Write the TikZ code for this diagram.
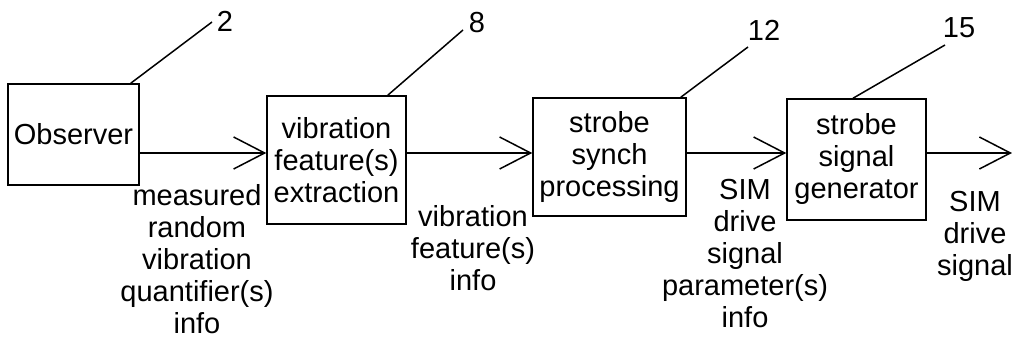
\documentclass[tikz,border=0pt]{standalone}
\usepackage{fontspec}
\setmainfont{Liberation Sans}
\usetikzlibrary{arrows.meta,calc}

\begin{document}
\begin{tikzpicture}[x=1pt,y=-1pt,line width=1.5pt,
  font=\fontsize{29}{32}\selectfont,
  block/.style={draw,align=center,inner sep=0pt},
  info/.style={align=center,inner sep=0pt},
  flow/.style={-{Straight Barb[length=31pt,width=32pt]}}]
\useasboundingbox (0,0) rectangle (1012,339);
\node[block,minimum width=131pt,minimum height=101pt] (obs) at (73.5,134.5) {Observer};
\node[block,minimum width=139pt,minimum height=128pt] (vfe) at (336.5,160) {vibration\\feature(s)\\extraction};
\node[block,minimum width=153pt,minimum height=118pt] (ssp) at (609.5,157) {strobe\\synch\\processing};
\node[block,minimum width=139pt,minimum height=121pt] (ssg) at (856.5,159.5) {strobe\\signal\\generator};
\coordinate (axis) at (0,153);
\coordinate (out) at (1012,153);
\draw[flow] (obs.east |- axis) -- (vfe.west |- axis);
\draw[flow] (vfe.east |- axis) -- (ssp.west |- axis);
\draw[flow] (ssp.east |- axis) -- (ssg.west |- axis);
\draw[flow] (ssg.east |- axis) -- (out);
\node[info] (mrv) at (197,259) {measured\\random\\vibration\\quantifier(s)\\info};
\node[info] (vfi) at (473,248) {vibration\\feature(s)\\info};
\node[info] (sdp) at (745,254) {SIM\\drive\\signal\\parameter(s)\\info};
\node[info] (sds) at (975,236) {SIM\\drive\\signal};
% reference numerals
\node (n2) at (225,21) {2};
\node (n8) at (477,23) {8};
\node (n12) at (764,30) {12};
\node (n15) at (959,28) {15};
\coordinate (e2) at (212,22);
\coordinate (e8) at (463,30);
\coordinate (e12) at (748,47);
\coordinate (e15) at (945,45);
\draw ($(obs.north east)+(-9,0)$) -- (e2);
\draw ($(vfe.north east)+(-19,0)$) -- (e8);
\draw ($(ssp.north east)+(-6,0)$) -- (e12);
\draw ($(ssg.north)+(-3.5,0)$) -- (e15);
\end{tikzpicture}
\end{document}
